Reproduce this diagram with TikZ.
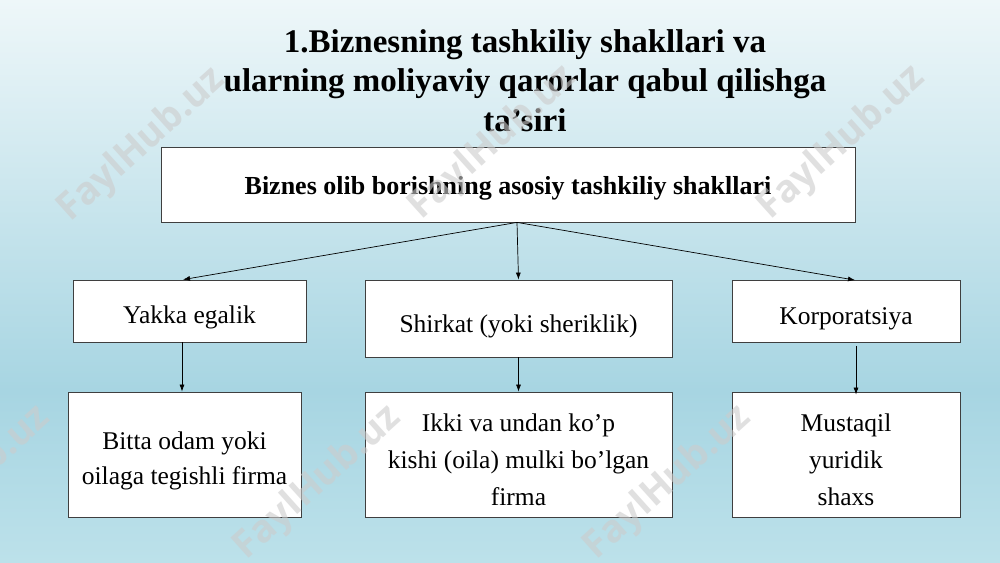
\documentclass[tikz,border=0pt]{standalone}
\usepackage{fontspec}
\setmainfont{Liberation Serif}
\newfontfamily\wmfont{Open Sans}
\usetikzlibrary{positioning,arrows.meta}

\definecolor{bgtop}{HTML}{EEF7F9}
\definecolor{bgmid}{HTML}{A7D5E2}
\definecolor{bgbot}{HTML}{BCE1EA}
\definecolor{boxline}{HTML}{3F3F3F}
\definecolor{wmgray}{HTML}{CCCCCC}

\tikzset{
  box/.style={draw=boxline, fill=white, line width=0.8pt, inner sep=0pt, align=center,
    font=\fontsize{25.5}{36}\selectfont},
  arr/.style={-{Latex[length=7pt,width=5pt]}, line width=0.7pt},
  wmark/.style={rotate=42, text=wmgray, opacity=0.6,
    font=\wmfont\bfseries\fontsize{38}{38}\selectfont}
}

\begin{document}
\begin{tikzpicture}[x=1pt,y=-1pt]
    % Sfondo
    \useasboundingbox (0,0) rectangle (1000,562);
    \shade[top color=bgtop, bottom color=bgmid] (0,0) rectangle (1000,390);
    \shade[top color=bgmid, bottom color=bgbot] (0,390) rectangle (1000,562);

    % Titolo
    \node[anchor=north, inner sep=0pt, align=center,
      font=\bfseries\fontsize{33}{39.5}\selectfont] (title) at (525,29)
      {1.Biznesning tashkiliy shakllari va\\ularning moliyaviy qarorlar qabul qilishga\\ta’siri};

    % Riquadro principale
    \node[box, minimum width=694pt, minimum height=75pt, text height=20pt, text depth=0pt,
      font=\bfseries\fontsize{26}{30}\selectfont] (top) at (508,184.5)
      {Biznes olib borishning asosiy tashkiliy shakllari};

    % Forme
    \node[box, minimum width=233pt, minimum height=62pt, text height=25pt, text depth=0pt] (yakka) at (189.5,311) {Yakka egalik};
    \node[box, minimum width=307pt, minimum height=77pt, text height=27pt, text depth=0pt] (shirkat) at (518.5,318.5) {Shirkat (yoki sheriklik)};
    \node[box, minimum width=228pt, minimum height=62pt, text height=25pt, text depth=0pt] (korp) at (846,311.5) {Korporatsiya};

    % Descrizioni
    \node[box, minimum width=233pt, minimum height=125pt, font=\fontsize{25.5}{35}\selectfont] (yakkadesc) at (184.5,454.5)
      {\rule{0pt}{31pt}Bitta odam yoki\\oilaga tegishli firma};
    \node[box, minimum width=307pt, minimum height=125pt, font=\fontsize{25.5}{37}\selectfont] (shirkatdesc) at (518.5,454.5)
      {\rule{0pt}{29pt}Ikki va undan ko’p\\kishi (oila) mulki bo’lgan\\firma};
    \node[box, minimum width=228pt, minimum height=125pt, font=\fontsize{25.5}{37}\selectfont] (korpdesc) at (846,454.5)
      {\rule{0pt}{29pt}Mustaqil\\yuridik\\shaxs};

    % Frecce
    \draw[arr] ([xshift=9pt]top.south) -- ([xshift=-6.5pt]yakka.north);
    \draw[arr] ([xshift=9pt]top.south) -- (shirkat.north);
    \draw[arr] ([xshift=9pt]top.south) -- ([xshift=9pt]korp.north);

    \draw[arr] ([xshift=-7.5pt]yakka.south) -- ([xshift=-2.5pt]yakkadesc.north);
    \draw[arr] (shirkat.south) -- (shirkatdesc.north);
    \draw[arr] ([xshift=10pt,yshift=-3pt]korp.south) -- ([xshift=10pt,yshift=-3pt]korpdesc.north);

    % Filigrana
    \foreach \wx/\wy [count=\i] in {142/145, 493/143, 842/143, -33/483, 318/483, 668/483}
        \node[wmark] (wm\i) at (\wx,\wy) {FaylHub.uz};
\end{tikzpicture}
\end{document}
